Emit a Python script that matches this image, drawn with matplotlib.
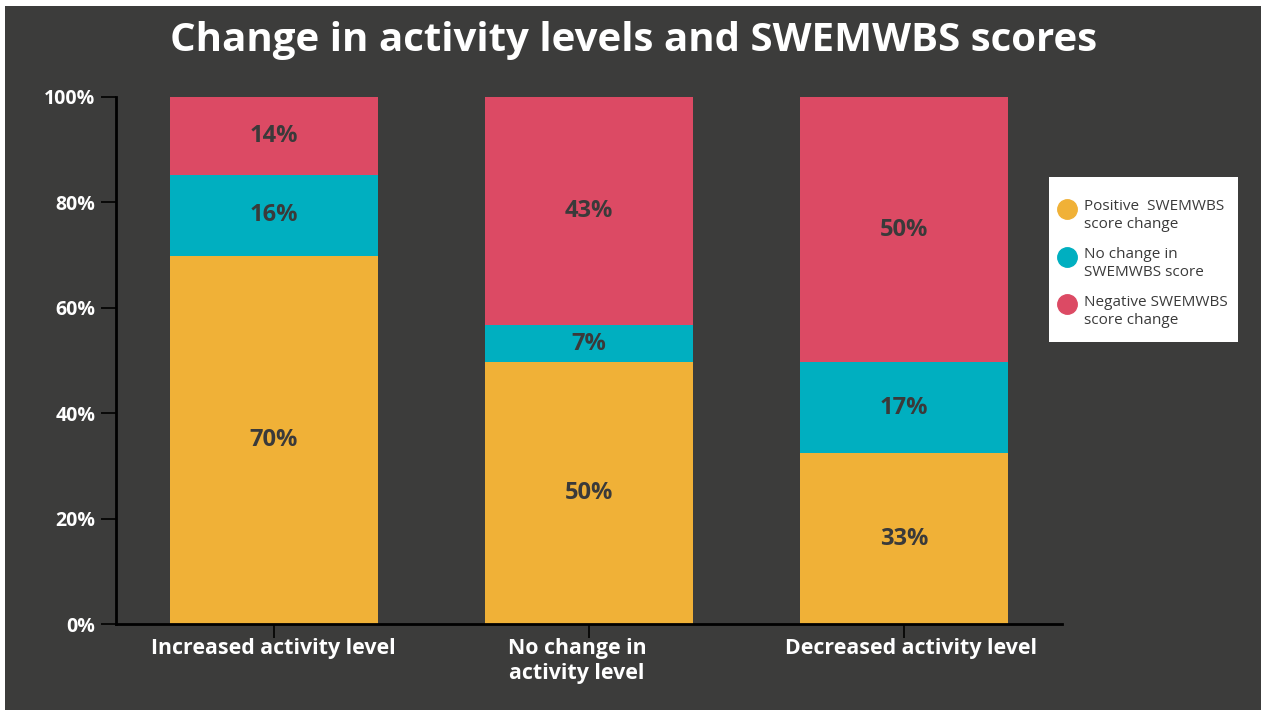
import matplotlib
matplotlib.use("Agg")
import matplotlib.pyplot as plt
from matplotlib.patches import Rectangle
from matplotlib.lines import Line2D
from matplotlib.legend_handler import HandlerLine2D
import matplotlib.transforms as mtransforms
import numpy as np

categories = ["Increased activity level", "No change in\nactivity level", "Decreased activity level"]
positive = [69.8, 49.7, 32.4]
no_change = [15.5, 7.0, 17.3]
negative = [14.7, 43.3, 50.3]
positive_labels = ["70%", "50%", "33%"]
no_change_labels = ["16%", "7%", "17%"]
negative_labels = ["14%", "43%", "50%"]
series_names = ["Positive  SWEMWBS\nscore change", "No change in\nSWEMWBS score", "Negative SWEMWBS\nscore change"]
yticks = [0, 20, 40, 60, 80, 100]
ytick_labels = ["0%", "20%", "40%", "60%", "80%", "100%"]
title = "Change in activity levels and SWEMWBS scores"

BG = "#3c3c3b"
YEL = "#f0b137"
TEAL = "#00afc0"
RED = "#dc4a64"
DARK = "#3a3a3a"

plt.rcParams['font.family'] = ['Open Sans', 'DejaVu Sans']

W, H = 1261, 710
fig = plt.figure(figsize=(W / 100, H / 100), dpi=100)
fig.patch.set_facecolor("white")
fig.add_artist(Rectangle((5 / W, 0), 1, 1 - 6 / H, transform=fig.transFigure,
                         facecolor=BG, edgecolor="none", zorder=0))

ax = fig.add_axes([116 / W, 1 - 624.3 / H, (1062 - 116) / W, (624.3 - 97) / H])
ax.set_facecolor("none")
x = np.arange(len(categories))
bw = 0.66
ax.bar(x, positive, bw, color=YEL, label=series_names[0], zorder=2)
ax.bar(x, no_change, bw, bottom=positive, color=TEAL, label=series_names[1], zorder=2)
bot2 = [a + b for a, b in zip(positive, no_change)]
ax.bar(x, negative, bw, bottom=bot2, color=RED, label=series_names[2], zorder=2)

for i in range(len(categories)):
    for base, val, lab in [(0, positive[i], positive_labels[i]),
                           (positive[i], no_change[i], no_change_labels[i]),
                           (bot2[i], negative[i], negative_labels[i])]:
        ax.text(x[i], base + val / 2, lab, ha="center", va="center",
                fontsize=17, fontweight="bold", color=DARK, zorder=3)

ax.set_xlim(-0.5, 2.5)
ax.set_ylim(0, 100)
ax.set_yticks(yticks)
ax.set_yticklabels(ytick_labels)
ax.set_xticks(x)
ax.set_xticklabels(categories, linespacing=1.25)
for s in ["top", "right"]:
    ax.spines[s].set_visible(False)
for s in ["left", "bottom"]:
    ax.spines[s].set_color("black")
    ax.spines[s].set_linewidth(2)
ax.tick_params(axis="y", length=11, width=1.2, color="black", labelcolor="white",
               labelsize=14, pad=4)
ax.tick_params(axis="x", length=10, width=1.2, color="black", labelcolor="white",
               labelsize=15.4, pad=0)
for lab in ax.get_yticklabels() + ax.get_xticklabels():
    lab.set_fontweight("bold")
# small horizontal offsets of category labels as in the original
xlabs = ax.get_xticklabels()
for lab, dxp in zip(xlabs, [0, -12, 7]):
    lab.set_transform(lab.get_transform() +
                      mtransforms.ScaledTranslation(dxp / 100, 0, fig.dpi_scale_trans))

fig.text(634 / W, 1 - 40 / H, title, ha="center", va="center", fontsize=29,
         fontweight="bold", color="white")

# legend box
fig.add_artist(Rectangle((1049 / W, 1 - 342 / H), (1238 - 1049) / W, (342 - 177) / H,
                         transform=fig.transFigure, facecolor="white",
                         edgecolor="none", zorder=5))


class UpHandler(HandlerLine2D):
    def __init__(self, dy, **kw):
        super().__init__(**kw)
        self.dy = dy

    def create_artists(self, legend, orig_handle, xdescent, ydescent, width,
                       height, fontsize, trans):
        arts = super().create_artists(legend, orig_handle, xdescent, ydescent,
                                      width, height, fontsize, trans)
        for a in arts:
            a.set_ydata(np.asarray(a.get_ydata()) + self.dy)
        return arts


handles = [Line2D([0], [0], marker="o", linestyle="none", markersize=14,
                  markerfacecolor=c, markeredgecolor=c) for c in [YEL, TEAL, RED]]
leg = fig.legend(handles, series_names, loc="upper left",
                 bbox_to_anchor=(1057 / W, 1 - 199 / H), frameon=False,
                 fontsize=11, labelcolor=DARK, handletextpad=0.45, handlelength=1.3,
                 borderpad=0, labelspacing=0.95, borderaxespad=0,
                 handler_map={Line2D: UpHandler(dy=5)})
leg.set_zorder(6)
for t in leg.get_texts():
    t.set_linespacing(1.3)

fig.savefig("out.png", dpi=100, facecolor=fig.get_facecolor())
